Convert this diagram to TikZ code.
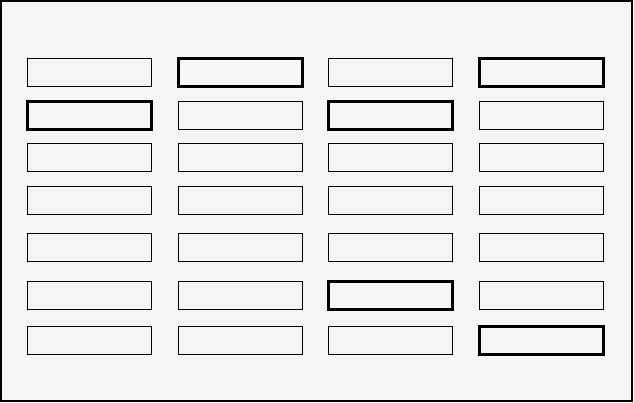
\documentclass[tikz,border=0pt]{standalone}
\usetikzlibrary{calc,positioning}
\definecolor{paper}{HTML}{F5F5F5}

\begin{document}
\begin{tikzpicture}[x=1pt,y=-1pt,
	cell/.style={draw,fill=paper,line width=1pt,minimum width=124pt,minimum height=28pt,inner sep=0pt,outer sep=0pt},
	bold/.style={cell,line width=3pt}]
	\useasboundingbox (0,0) rectangle (634,403);
	\filldraw[fill=paper,line width=2pt] (1,1) rectangle (632,401);

	\foreach \r/\y/\sa/\sb/\sc/\sd in {1/73/cell/bold/cell/bold, 2/115.5/bold/cell/bold/cell, 3/158/cell/cell/cell/cell, 4/201/cell/cell/cell/cell, 5/248/cell/cell/cell/cell, 6/295/cell/cell/bold/cell, 7/340/cell/cell/cell/bold}{
	\node[\sa] (box-\r-1) at (89,\y) {};
	\node[\sb] (box-\r-2) at (240,\y) {};
	\node[\sc] (box-\r-3) at (390,\y) {};
	\node[\sd] (box-\r-4) at (541,\y) {};
	}
\end{tikzpicture}
\end{document}
